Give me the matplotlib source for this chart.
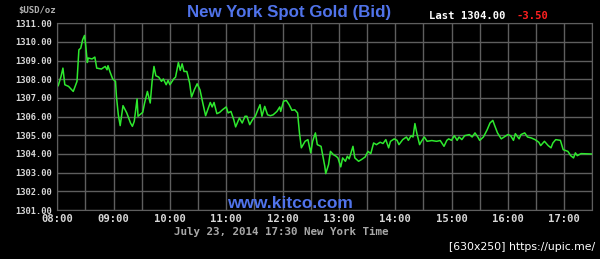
import numpy as np
import matplotlib.pyplot as plt

# minutes after 08:00 and bid price (USD/oz)
minutes = [
    1, 4, 6, 8, 12, 17, 21, 23, 25, 27, 29, 30, 32, 33, 37, 40, 42, 47, 51, 53,
    54, 56, 59, 62, 63, 65, 67, 70, 74, 78, 80, 82, 85, 86, 91, 93, 96, 99, 101, 103,
    105, 108, 111, 113, 116, 118, 120, 124, 126, 129, 131, 133, 135, 138, 141, 143, 146, 149, 152, 155,
    158, 163, 165, 167, 170, 173, 176, 180, 182, 185, 188, 190, 194, 197, 200, 202, 205, 208, 211, 213,
    216, 218, 221, 224, 227, 230, 234, 237, 238, 241, 244, 247, 250, 253, 256, 258, 260, 263, 264, 267,
    270, 272, 275, 277, 281, 283, 285, 286, 289, 291, 294, 297, 299, 302, 304, 307, 309, 311, 315, 317,
    321, 324, 328, 331, 334, 337, 340, 344, 347, 350, 353, 355, 359, 362, 364, 368, 372, 374, 377, 379,
    381, 383, 386, 388, 391, 394, 399, 404, 408, 412, 415, 417, 420, 423, 426, 428, 431, 434, 439, 442,
    445, 448, 450, 454, 458, 461, 464, 466, 469, 473, 476, 480, 483, 486, 488, 492, 494, 498, 501, 505,
    509, 513, 515, 519, 523, 526, 528, 531, 536, 539, 544, 547, 550, 552, 554, 558, 569,
]
prices = [
    1307.66, 1308.16, 1308.60, 1307.71, 1307.62, 1307.35, 1307.89, 1309.58, 1309.67, 1310.12,
    1310.35, 1309.94, 1308.90, 1309.14, 1309.09, 1309.19, 1308.60, 1308.55, 1308.69, 1308.51,
    1308.73, 1308.42, 1308.02, 1307.89, 1307.09, 1306.10, 1305.52, 1306.59, 1306.20, 1305.66,
    1305.48, 1305.75, 1306.95, 1306.02, 1306.23, 1306.73, 1307.35, 1306.73, 1307.89, 1308.69,
    1308.19, 1308.12, 1307.89, 1308.02, 1307.71, 1307.94, 1307.71, 1308.02, 1308.12, 1308.90,
    1308.48, 1308.83, 1308.42, 1308.42, 1307.80, 1307.05, 1307.44, 1307.76, 1307.44, 1306.73,
    1306.05, 1306.76, 1306.52, 1306.76, 1306.16, 1306.23, 1306.37, 1306.52, 1306.20, 1306.28,
    1305.84, 1305.45, 1305.93, 1305.66, 1306.02, 1306.02, 1305.57, 1305.84, 1306.02, 1306.28,
    1306.64, 1306.02, 1306.55, 1306.10, 1306.05, 1306.10, 1306.28, 1306.52, 1306.28, 1306.82,
    1306.87, 1306.64, 1306.34, 1306.37, 1306.20, 1305.13, 1304.33, 1304.59, 1304.68, 1304.77,
    1304.06, 1304.68, 1305.13, 1304.50, 1304.41, 1303.88, 1303.34, 1302.95, 1303.43, 1304.14,
    1303.97, 1303.88, 1303.79, 1303.31, 1303.79, 1303.61, 1303.88, 1303.74, 1304.41, 1303.79,
    1303.61, 1303.70, 1303.84, 1304.14, 1304.02, 1304.59, 1304.50, 1304.63, 1304.56, 1304.77,
    1304.33, 1304.68, 1304.81, 1304.73, 1304.50, 1304.77, 1304.91, 1304.73, 1304.98, 1304.91,
    1305.63, 1305.13, 1304.50, 1304.68, 1304.91, 1304.68, 1304.72, 1304.68, 1304.72, 1304.41,
    1304.73, 1304.81, 1304.73, 1304.98, 1304.73, 1304.91, 1304.77, 1304.98, 1305.04, 1304.91,
    1305.13, 1304.91, 1304.73, 1304.91, 1305.30, 1305.66, 1305.80, 1305.52, 1305.13, 1304.81,
    1304.91, 1305.04, 1304.98, 1304.73, 1305.09, 1304.81, 1305.04, 1305.13, 1304.91, 1304.86,
    1304.77, 1304.63, 1304.45, 1304.68, 1304.45, 1304.33, 1304.59, 1304.77, 1304.73, 1304.23,
    1304.14, 1303.91, 1303.79, 1304.06, 1303.91, 1304.02, 1304.00,
]
y_ticks = [1301, 1302, 1303, 1304, 1305, 1306, 1307, 1308, 1309, 1310, 1311]
x_labels = ["08:00", "09:00", "10:00", "11:00", "12:00", "13:00",
            "14:00", "15:00", "16:00", "17:00"]

GRID = "#5e5e5e"
LABEL = "#d8d8d8"
BLUE = "#5073ea"
MONO = "DejaVu Sans Mono"

fig = plt.figure(figsize=(6.0, 2.59), dpi=100, facecolor="black")
ax = fig.add_axes([57.3 / 600, 1 - 210 / 259, 535 / 600, 186.7 / 259])
ax.set_facecolor("black")

ax.plot(minutes, prices, color="#2ee82e", lw=1.1)

ax.set_xlim(0, 570)
ax.set_ylim(1301, 1311)
ax.set_xticks(np.arange(0, 571, 30))
ax.set_yticks(y_ticks)
ax.set_xticklabels([x_labels[i // 2] if i % 2 == 0 and i // 2 < len(x_labels) else ""
                    for i in range(20)])
ax.set_yticklabels([f"{v:.2f}" for v in y_ticks])
ax.grid(True, color=GRID, lw=1)
ax.tick_params(length=0, labelcolor=LABEL)
ax.tick_params(axis="x", labelsize=7.6, pad=3)
ax.tick_params(axis="y", labelsize=6.3, pad=4)
for lab in ax.get_xticklabels() + ax.get_yticklabels():
    lab.set_family(MONO)
    lab.set_weight("bold")
for sp in ax.spines.values():
    sp.set_color(GRID)

fig.text(18 / 600, 1 - 11 / 259, "$USD/oz", color="#b0b0b0", fontsize=6.5,
         family=MONO, weight="bold", va="center", ha="left")
fig.text(289 / 600, 1 - 13 / 259, "New York Spot Gold (Bid)", color=BLUE,
         fontsize=12.2, family="Liberation Sans", weight="bold", ha="center", va="center")
fig.text(429 / 600, 1 - 16 / 259, "Last 1304.00", color="white", fontsize=7.6,
         family=MONO, weight="bold", ha="left", va="center")
fig.text(517 / 600, 1 - 16 / 259, "-3.50", color="#ff2020", fontsize=7.6,
         family=MONO, weight="bold", ha="left", va="center")
fig.text(290 / 600, 1 - 204 / 259, "www.kitco.com", color=BLUE, fontsize=12.5,
         family="Liberation Sans", weight="bold", ha="center", va="center")
fig.text(281 / 600, 1 - 232 / 259, "July 23, 2014 17:30 New York Time",
         color="#a8a8a8", fontsize=7.8, family=MONO, weight="bold",
         ha="center", va="center")
fig.text(595 / 600, 1 - 247 / 259, "[630x250] https://upic.me/", color="white",
         fontsize=7.8, family="DejaVu Sans", ha="right", va="center")

fig.savefig("out.png", dpi=100, facecolor="black")
